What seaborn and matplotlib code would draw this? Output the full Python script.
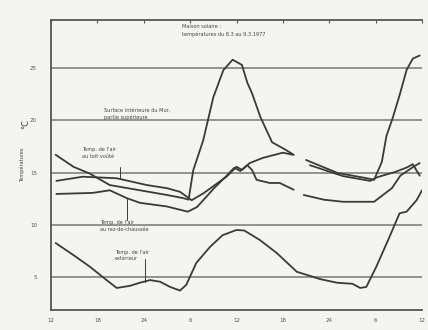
import numpy as np
import pandas as pd
import seaborn as sns
import matplotlib.pyplot as plt

# hours since 12h on day 1, temperatures in deg C
surf_h1 = [0.6, 2.9, 5.0, 7.6, 11.5, 15.0, 17.1, 17.8, 18.4, 19.7, 21.0, 22.3, 23.5, 24.7, 25.4, 26.0, 27.1, 28.6, 30.3, 31.4]
surf_v1 = [16.7, 15.55, 14.9, 13.8, 13.3, 12.85, 12.55, 12.4, 15.2, 18.1, 22.2, 24.8, 25.8, 25.3, 23.6, 22.6, 20.3, 17.9, 17.2, 16.7]
surf_h2 = [33.0, 37.1, 40.9, 41.8, 42.8, 43.4, 44.2, 45.1, 46.0, 46.8, 47.7]
surf_v2 = [16.2, 14.95, 14.45, 14.3, 16.0, 18.5, 20.2, 22.4, 24.8, 25.9, 26.2]

toit_h1 = [0.7, 4.1, 8.5, 12.4, 15.0, 16.7, 18.2, 19.7, 21.2, 22.7, 24.0, 24.7, 25.7, 27.4, 30.0, 31.3]
toit_v1 = [14.2, 14.6, 14.45, 13.8, 13.5, 13.15, 12.35, 13.0, 13.8, 14.6, 15.55, 15.25, 15.9, 16.4, 16.9, 16.7]
toit_h2 = [33.5, 37.8, 41.3, 42.2, 44.5, 46.1, 46.8, 47.7]
toit_v2 = [15.7, 14.65, 14.2, 14.55, 15.05, 15.5, 15.8, 14.7]

rez_h1 = [0.7, 5.4, 7.6, 9.8, 11.5, 15.0, 17.7, 18.9, 21.1, 22.8, 23.7, 24.5, 25.4, 26.0, 26.6, 28.3, 29.6, 31.4]
rez_v1 = [12.95, 13.05, 13.3, 12.55, 12.1, 11.75, 11.25, 11.7, 13.5, 14.75, 15.45, 15.15, 15.7, 15.25, 14.3, 14.0, 14.0, 13.35]
rez_h2 = [32.7, 35.3, 37.8, 41.8, 44.1, 45.2, 47.0, 47.7]
rez_v2 = [12.85, 12.4, 12.2, 12.2, 13.5, 14.7, 15.6, 15.9]

ext_h = [0.6, 2.9, 5.0, 7.2, 8.5, 10.2, 11.5, 12.8, 14.1, 15.4, 16.7, 17.5, 18.8, 20.6, 22.2, 24.0,
         25.0, 27.0, 29.2, 31.8, 33.1, 34.8, 37.0, 39.0, 40.0, 40.8, 42.1, 43.8, 45.1, 46.0, 47.3, 48.0]
ext_v = [8.25, 7.1, 6.0, 4.7, 3.95, 4.15, 4.45, 4.7, 4.55, 4.05, 3.7, 4.25, 6.35, 7.9, 9.0, 9.5,
         9.45, 8.55, 7.3, 5.5, 5.2, 4.8, 4.45, 4.35, 3.95, 4.05, 6.0, 8.85, 11.1, 11.25, 12.35, 13.3]

x_ticks = [0, 6, 12, 18, 24, 30, 36, 42, 48]
x_labels = ["12", "18", "24", "6", "12", "18", "24", "6", "12"]
y_ticks = [5, 10, 15, 20, 25]

segments = [
    (surf_h1, surf_v1), (surf_h2, surf_v2),
    (toit_h1, toit_v1), (toit_h2, toit_v2),
    (rez_h1, rez_v1), (rez_h2, rez_v2),
    (ext_h, ext_v),
]

paper = "#f4f4f1"
ink = "#3a3a3a"

sns.set_style("white")
plt.rcParams['font.family'] = ['DejaVu Sans']

fig = plt.figure(figsize=(4.28, 3.30), dpi=100, facecolor=paper)
ax = fig.add_axes([51 / 428, 20 / 330, 371 / 428, 290 / 330])
ax.set_facecolor(paper)

# grid lines at the labelled temperatures
for yv in y_ticks:
    ax.axhline(yv, color="#8a8a8a", lw=1.3, zorder=1)

for hs, vs in segments:
    df = pd.DataFrame({"h": hs, "t": vs})
    sns.lineplot(data=df, x="h", y="t", ax=ax, color=ink, lw=1.3, sort=False,
                 estimator=None, zorder=3)

ax.set_xlim(0, 48)
ax.set_ylim(1.84, 29.6)
ax.set_xticks(x_ticks)
ax.set_xticklabels(x_labels)
ax.set_yticks(y_ticks)
ax.tick_params(axis="both", labelsize=4, colors="#555555", direction="in", length=2.5, width=0.8)
ax.tick_params(axis="x", top=True, pad=6)
ax.tick_params(axis="y", pad=10)
ax.set_xlabel("")
ax.set_ylabel("")

for side in ["left", "bottom", "top"]:
    ax.spines[side].set_color("#555555")
    ax.spines[side].set_linewidth(1.3)
ax.spines["right"].set_visible(False)

fs = 3.6
tc = "#444444"
ax.text(16.9, 29.2, "Maison solaire :\ntempératures du 8.3 au 9.3.1977", fontsize=fs, color=tc,
        va="top", ha="left", linespacing=1.6)
ax.text(6.9, 21.2, "Surface intérieure du Mur,\npartie supérieure", fontsize=fs, color=tc,
        va="top", ha="left", linespacing=1.4)
ax.text(4.0, 17.4, "Temp. de l'air\nau toit voûté", fontsize=fs, color=tc,
        va="top", ha="left", linespacing=1.4)
ax.text(6.3, 10.45, "Temp. de l'air\nau rez-de-chaussée", fontsize=fs, color=tc,
        va="top", ha="left", linespacing=1.4)
ax.text(8.3, 7.6, "Temp. de l'air\nextérieur", fontsize=fs, color=tc,
        va="top", ha="left", linespacing=1.4)

# pointers from labels to curves
ax.plot([8.9, 8.9], [15.5, 14.45], color=ink, lw=0.7, zorder=2)
ax.plot([9.8, 9.8], [12.55, 10.5], color=ink, lw=0.7, zorder=2)
ax.plot([12.2, 12.2], [6.7, 4.5], color=ink, lw=0.7, zorder=2)

fig.text(22 / 428, 1 - 165 / 330, "Températures", rotation=90, fontsize=3.6, color=tc,
         ha="center", va="center")
fig.text(26 / 428, 1 - 124 / 330, "°C", rotation=90, fontsize=6, color=tc,
         ha="center", va="center")

fig.savefig("out.png", dpi=100, facecolor=paper)
